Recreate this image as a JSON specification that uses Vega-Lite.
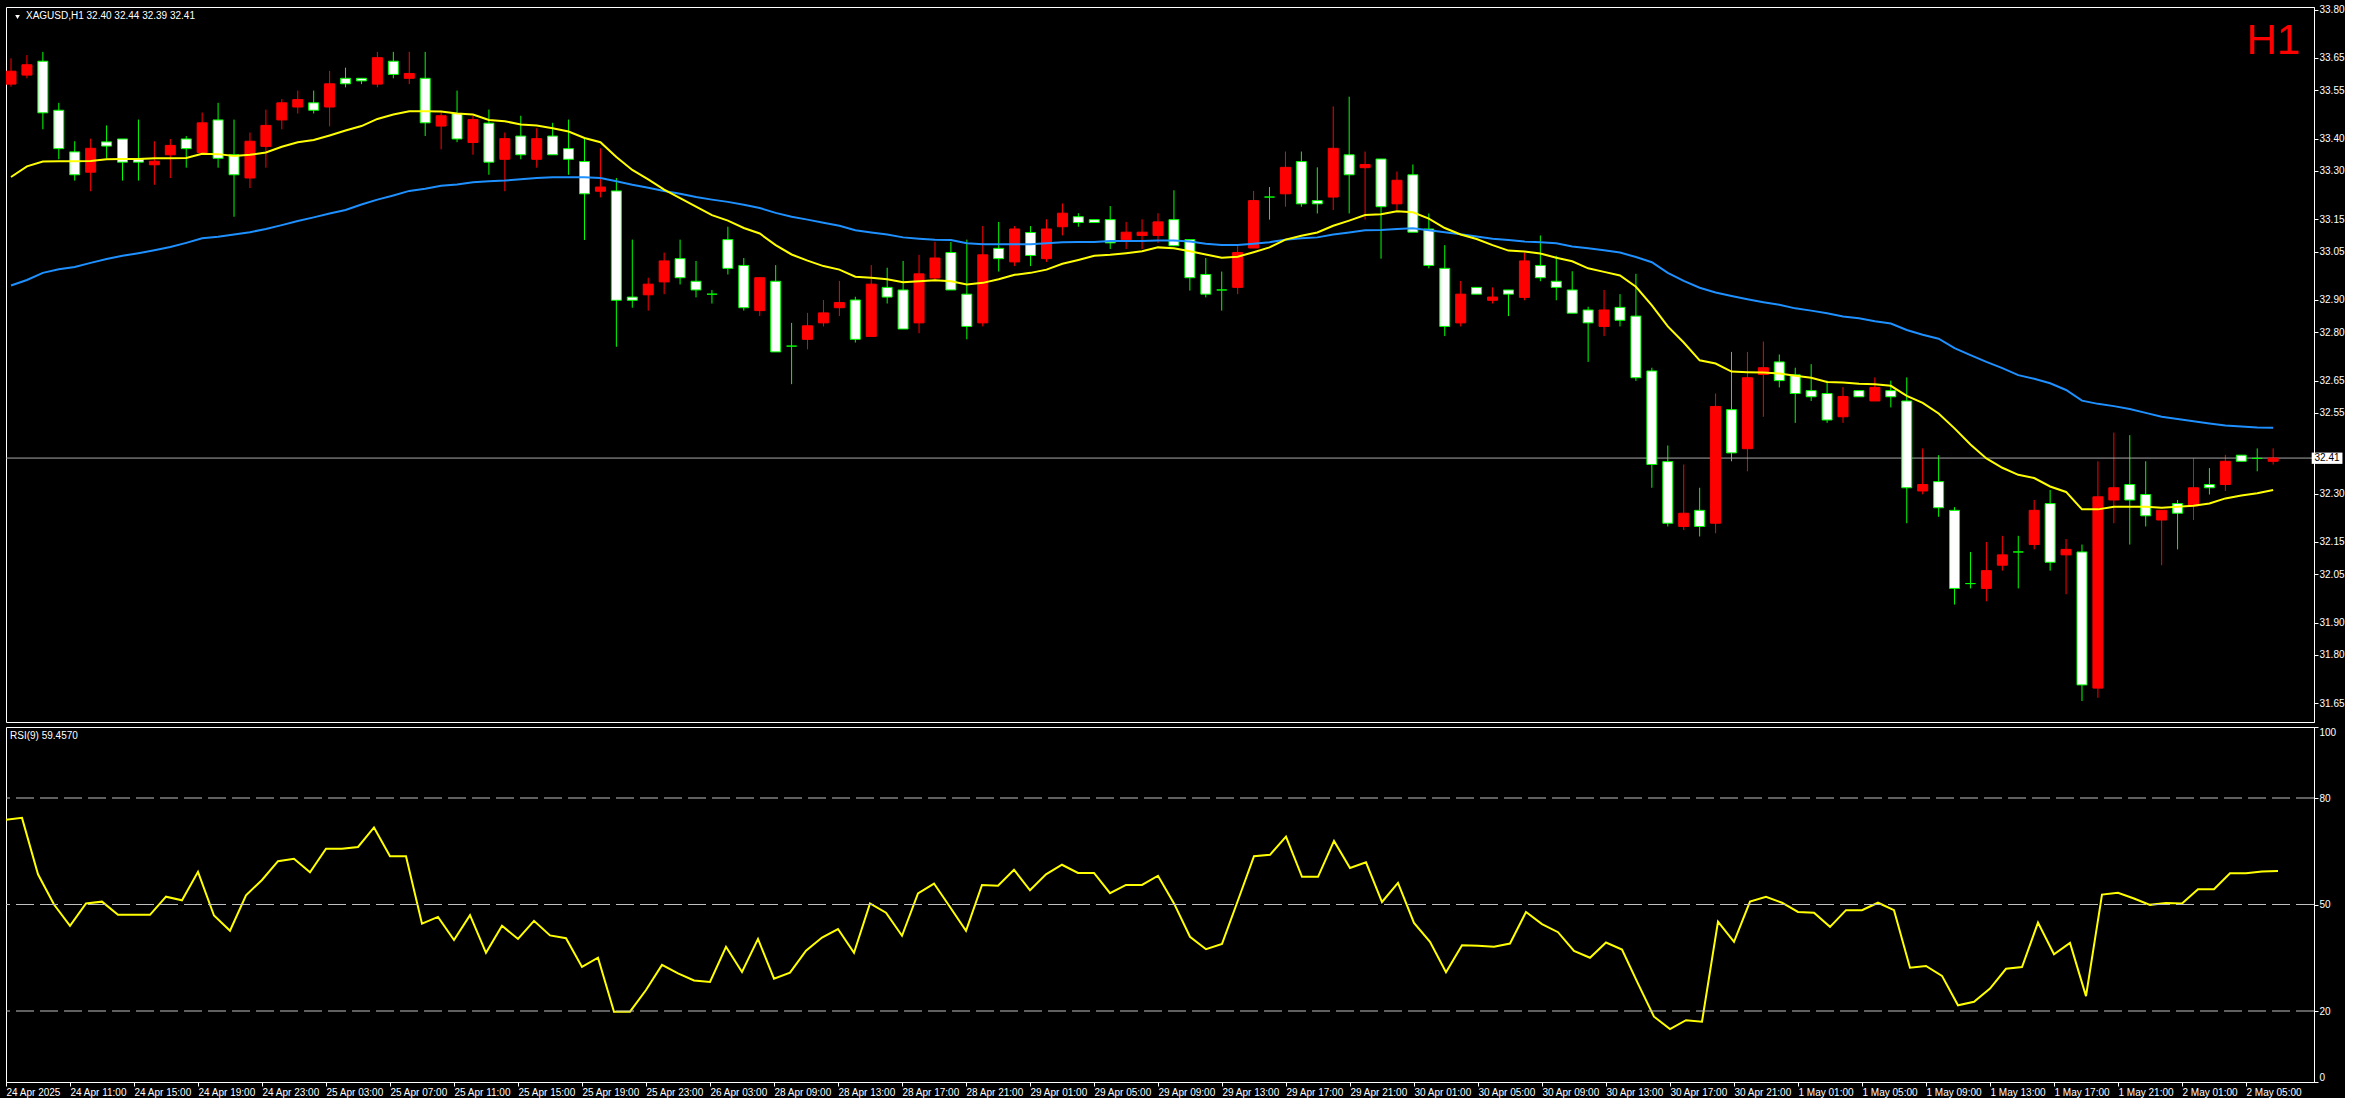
{
  "$schema": "https://vega.github.io/schema/vega-lite/v6.json",
  "background": "#000000",
  "padding": {"left": 5, "top": 4, "right": 0, "bottom": 0},
  "spacing": 3,
  "config": {
    "view": {"stroke": "#ffffff", "strokeWidth": 1},
    "axis": {"labelFont": "Liberation Sans", "labelFontSize": 10, "labelColor": "#ffffff", "domainColor": "#ffffff", "tickColor": "#ffffff", "grid": false, "tickSize": 4, "labelPadding": 1},
    "text": {"font": "Liberation Sans"}
  },
  "datasets": {
    "bars": [
      {"i":0,"o":33.569,"h":33.649,"l":33.561,"c":33.609,"m1":33.281,"m2":32.945,"r":73.9},
      {"i":1,"o":33.597,"h":33.659,"l":33.587,"c":33.629,"m1":33.314,"m2":32.962,"r":74.4},
      {"i":2,"o":33.640,"h":33.669,"l":33.429,"c":33.480,"m1":33.329,"m2":32.984,"r":58.5},
      {"i":3,"o":33.488,"h":33.511,"l":33.336,"c":33.369,"m1":33.330,"m2":32.995,"r":50.0},
      {"i":4,"o":33.359,"h":33.392,"l":33.270,"c":33.288,"m1":33.330,"m2":33.002,"r":44.0},
      {"i":5,"o":33.296,"h":33.400,"l":33.237,"c":33.370,"m1":33.331,"m2":33.015,"r":50.3},
      {"i":6,"o":33.390,"h":33.441,"l":33.339,"c":33.377,"m1":33.336,"m2":33.027,"r":50.8},
      {"i":7,"o":33.399,"h":33.399,"l":33.270,"c":33.327,"m1":33.337,"m2":33.037,"r":47.1},
      {"i":8,"o":33.336,"h":33.459,"l":33.270,"c":33.327,"m1":33.337,"m2":33.045,"r":47.1},
      {"i":9,"o":33.319,"h":33.392,"l":33.257,"c":33.330,"m1":33.339,"m2":33.054,"r":47.1},
      {"i":10,"o":33.350,"h":33.399,"l":33.278,"c":33.379,"m1":33.339,"m2":33.064,"r":52.2},
      {"i":11,"o":33.399,"h":33.408,"l":33.310,"c":33.369,"m1":33.340,"m2":33.077,"r":51.2},
      {"i":12,"o":33.357,"h":33.481,"l":33.357,"c":33.449,"m1":33.353,"m2":33.091,"r":59.2},
      {"i":13,"o":33.458,"h":33.511,"l":33.310,"c":33.339,"m1":33.352,"m2":33.096,"r":46.9},
      {"i":14,"o":33.350,"h":33.459,"l":33.158,"c":33.288,"m1":33.346,"m2":33.103,"r":42.6},
      {"i":15,"o":33.278,"h":33.419,"l":33.247,"c":33.392,"m1":33.350,"m2":33.110,"r":52.6},
      {"i":16,"o":33.376,"h":33.490,"l":33.310,"c":33.441,"m1":33.357,"m2":33.120,"r":56.9},
      {"i":17,"o":33.458,"h":33.523,"l":33.429,"c":33.511,"m1":33.375,"m2":33.132,"r":62.2},
      {"i":18,"o":33.498,"h":33.549,"l":33.478,"c":33.521,"m1":33.389,"m2":33.145,"r":62.9},
      {"i":19,"o":33.511,"h":33.549,"l":33.478,"c":33.488,"m1":33.396,"m2":33.156,"r":59.1},
      {"i":20,"o":33.498,"h":33.610,"l":33.438,"c":33.570,"m1":33.410,"m2":33.168,"r":65.7},
      {"i":21,"o":33.587,"h":33.620,"l":33.559,"c":33.570,"m1":33.425,"m2":33.179,"r":65.7},
      {"i":22,"o":33.587,"h":33.587,"l":33.569,"c":33.579,"m1":33.439,"m2":33.196,"r":66.2},
      {"i":23,"o":33.569,"h":33.669,"l":33.559,"c":33.651,"m1":33.461,"m2":33.211,"r":71.7},
      {"i":24,"o":33.640,"h":33.669,"l":33.587,"c":33.599,"m1":33.475,"m2":33.224,"r":63.6},
      {"i":25,"o":33.587,"h":33.669,"l":33.569,"c":33.602,"m1":33.485,"m2":33.238,"r":63.6},
      {"i":26,"o":33.587,"h":33.669,"l":33.408,"c":33.449,"m1":33.485,"m2":33.245,"r":44.6},
      {"i":27,"o":33.439,"h":33.487,"l":33.367,"c":33.471,"m1":33.484,"m2":33.254,"r":46.5},
      {"i":28,"o":33.478,"h":33.549,"l":33.389,"c":33.399,"m1":33.478,"m2":33.258,"r":40.0},
      {"i":29,"o":33.388,"h":33.471,"l":33.350,"c":33.459,"m1":33.475,"m2":33.265,"r":47.0},
      {"i":30,"o":33.448,"h":33.490,"l":33.288,"c":33.327,"m1":33.458,"m2":33.268,"r":36.4},
      {"i":31,"o":33.336,"h":33.419,"l":33.237,"c":33.400,"m1":33.454,"m2":33.270,"r":44.0},
      {"i":32,"o":33.408,"h":33.471,"l":33.336,"c":33.350,"m1":33.444,"m2":33.274,"r":40.3},
      {"i":33,"o":33.336,"h":33.432,"l":33.310,"c":33.400,"m1":33.441,"m2":33.278,"r":45.4},
      {"i":34,"o":33.408,"h":33.449,"l":33.350,"c":33.350,"m1":33.432,"m2":33.280,"r":41.3},
      {"i":35,"o":33.369,"h":33.459,"l":33.288,"c":33.336,"m1":33.422,"m2":33.280,"r":40.5},
      {"i":36,"o":33.329,"h":33.400,"l":33.086,"c":33.229,"m1":33.402,"m2":33.280,"r":32.4},
      {"i":37,"o":33.237,"h":33.370,"l":33.218,"c":33.250,"m1":33.389,"m2":33.278,"r":35.0},
      {"i":38,"o":33.238,"h":33.278,"l":32.755,"c":32.899,"m1":33.343,"m2":33.268,"r":19.8},
      {"i":39,"o":32.909,"h":33.087,"l":32.876,"c":32.899,"m1":33.303,"m2":33.257,"r":19.8},
      {"i":40,"o":32.916,"h":32.969,"l":32.867,"c":32.949,"m1":33.274,"m2":33.248,"r":25.9},
      {"i":41,"o":32.956,"h":33.047,"l":32.918,"c":33.021,"m1":33.242,"m2":33.238,"r":33.0},
      {"i":42,"o":33.028,"h":33.087,"l":32.948,"c":32.969,"m1":33.216,"m2":33.229,"r":30.6},
      {"i":43,"o":32.958,"h":33.021,"l":32.908,"c":32.931,"m1":33.189,"m2":33.219,"r":28.6},
      {"i":44,"o":32.918,"h":32.931,"l":32.889,"c":32.918,"m1":33.163,"m2":33.211,"r":28.2},
      {"i":45,"o":33.087,"h":33.127,"l":32.979,"c":32.998,"m1":33.146,"m2":33.204,"r":38.1},
      {"i":46,"o":33.007,"h":33.030,"l":32.867,"c":32.876,"m1":33.123,"m2":33.195,"r":31.0},
      {"i":47,"o":32.867,"h":32.969,"l":32.850,"c":32.969,"m1":33.106,"m2":33.185,"r":40.3},
      {"i":48,"o":32.958,"h":33.008,"l":32.739,"c":32.739,"m1":33.070,"m2":33.170,"r":29.1},
      {"i":49,"o":32.757,"h":32.829,"l":32.639,"c":32.757,"m1":33.041,"m2":33.158,"r":30.8},
      {"i":50,"o":32.778,"h":32.860,"l":32.747,"c":32.820,"m1":33.022,"m2":33.149,"r":37.0},
      {"i":51,"o":32.829,"h":32.900,"l":32.818,"c":32.860,"m1":33.005,"m2":33.139,"r":40.7},
      {"i":52,"o":32.876,"h":32.959,"l":32.850,"c":32.892,"m1":32.994,"m2":33.130,"r":43.1},
      {"i":53,"o":32.900,"h":32.910,"l":32.768,"c":32.778,"m1":32.972,"m2":33.116,"r":36.4},
      {"i":54,"o":32.787,"h":33.008,"l":32.787,"c":32.949,"m1":32.969,"m2":33.109,"r":50.3},
      {"i":55,"o":32.939,"h":33.000,"l":32.889,"c":32.909,"m1":32.964,"m2":33.103,"r":47.7},
      {"i":56,"o":32.931,"h":33.021,"l":32.810,"c":32.810,"m1":32.955,"m2":33.094,"r":41.2},
      {"i":57,"o":32.829,"h":33.040,"l":32.797,"c":32.981,"m1":32.958,"m2":33.090,"r":53.1},
      {"i":58,"o":32.968,"h":33.080,"l":32.961,"c":33.030,"m1":32.961,"m2":33.087,"r":55.9},
      {"i":59,"o":33.047,"h":33.080,"l":32.931,"c":32.931,"m1":32.958,"m2":33.086,"r":49.3},
      {"i":60,"o":32.918,"h":33.087,"l":32.778,"c":32.818,"m1":32.948,"m2":33.076,"r":42.6},
      {"i":61,"o":32.829,"h":33.129,"l":32.818,"c":33.040,"m1":32.953,"m2":33.073,"r":55.5},
      {"i":62,"o":33.060,"h":33.142,"l":32.988,"c":33.028,"m1":32.964,"m2":33.073,"r":55.3},
      {"i":63,"o":33.018,"h":33.129,"l":33.005,"c":33.120,"m1":32.978,"m2":33.073,"r":59.8},
      {"i":64,"o":33.109,"h":33.129,"l":33.005,"c":33.038,"m1":32.984,"m2":33.073,"r":54.0},
      {"i":65,"o":33.028,"h":33.150,"l":33.018,"c":33.120,"m1":32.994,"m2":33.076,"r":58.5},
      {"i":66,"o":33.127,"h":33.199,"l":33.100,"c":33.169,"m1":33.012,"m2":33.079,"r":61.2},
      {"i":67,"o":33.158,"h":33.169,"l":33.127,"c":33.140,"m1":33.024,"m2":33.080,"r":58.9},
      {"i":68,"o":33.149,"h":33.149,"l":33.140,"c":33.140,"m1":33.037,"m2":33.080,"r":58.9},
      {"i":69,"o":33.149,"h":33.191,"l":33.058,"c":33.077,"m1":33.040,"m2":33.083,"r":53.2},
      {"i":70,"o":33.087,"h":33.142,"l":33.058,"c":33.110,"m1":33.045,"m2":33.083,"r":55.5},
      {"i":71,"o":33.100,"h":33.150,"l":33.058,"c":33.110,"m1":33.051,"m2":33.083,"r":55.5},
      {"i":72,"o":33.100,"h":33.169,"l":33.077,"c":33.142,"m1":33.063,"m2":33.084,"r":58.1},
      {"i":73,"o":33.149,"h":33.240,"l":33.068,"c":33.068,"m1":33.060,"m2":33.084,"r":50.3},
      {"i":74,"o":33.087,"h":33.087,"l":32.929,"c":32.969,"m1":33.051,"m2":33.081,"r":40.9},
      {"i":75,"o":32.979,"h":33.030,"l":32.908,"c":32.918,"m1":33.041,"m2":33.074,"r":37.4},
      {"i":76,"o":32.931,"h":32.988,"l":32.867,"c":32.931,"m1":33.031,"m2":33.070,"r":38.9},
      {"i":77,"o":32.939,"h":33.067,"l":32.918,"c":33.047,"m1":33.034,"m2":33.070,"r":51.2},
      {"i":78,"o":33.061,"h":33.238,"l":33.061,"c":33.208,"m1":33.048,"m2":33.074,"r":63.6},
      {"i":79,"o":33.219,"h":33.250,"l":33.149,"c":33.219,"m1":33.063,"m2":33.079,"r":64.0},
      {"i":80,"o":33.229,"h":33.360,"l":33.189,"c":33.311,"m1":33.087,"m2":33.087,"r":69.1},
      {"i":81,"o":33.329,"h":33.360,"l":33.189,"c":33.198,"m1":33.099,"m2":33.091,"r":57.8},
      {"i":82,"o":33.208,"h":33.311,"l":33.168,"c":33.198,"m1":33.109,"m2":33.094,"r":57.8},
      {"i":83,"o":33.219,"h":33.500,"l":33.179,"c":33.370,"m1":33.130,"m2":33.103,"r":67.9},
      {"i":84,"o":33.350,"h":33.530,"l":33.168,"c":33.288,"m1":33.146,"m2":33.109,"r":60.3},
      {"i":85,"o":33.310,"h":33.360,"l":33.149,"c":33.320,"m1":33.163,"m2":33.116,"r":61.9},
      {"i":86,"o":33.337,"h":33.337,"l":33.028,"c":33.189,"m1":33.166,"m2":33.117,"r":50.7},
      {"i":87,"o":33.198,"h":33.298,"l":33.179,"c":33.271,"m1":33.175,"m2":33.120,"r":56.1},
      {"i":88,"o":33.288,"h":33.320,"l":33.110,"c":33.110,"m1":33.172,"m2":33.122,"r":44.8},
      {"i":89,"o":33.120,"h":33.168,"l":32.998,"c":33.007,"m1":33.152,"m2":33.116,"r":39.5},
      {"i":90,"o":32.998,"h":33.070,"l":32.788,"c":32.818,"m1":33.123,"m2":33.110,"r":30.9},
      {"i":91,"o":32.829,"h":32.959,"l":32.818,"c":32.918,"m1":33.103,"m2":33.104,"r":38.5},
      {"i":92,"o":32.939,"h":32.939,"l":32.918,"c":32.918,"m1":33.089,"m2":33.097,"r":38.4},
      {"i":93,"o":32.899,"h":32.939,"l":32.889,"c":32.909,"m1":33.070,"m2":33.090,"r":38.1},
      {"i":94,"o":32.931,"h":32.931,"l":32.850,"c":32.918,"m1":33.053,"m2":33.086,"r":39.0},
      {"i":95,"o":32.908,"h":33.047,"l":32.899,"c":33.021,"m1":33.050,"m2":33.081,"r":47.9},
      {"i":96,"o":33.007,"h":33.100,"l":32.958,"c":32.969,"m1":33.044,"m2":33.079,"r":44.5},
      {"i":97,"o":32.958,"h":33.037,"l":32.899,"c":32.939,"m1":33.031,"m2":33.076,"r":42.2},
      {"i":98,"o":32.931,"h":32.989,"l":32.859,"c":32.859,"m1":33.020,"m2":33.066,"r":36.9},
      {"i":99,"o":32.869,"h":32.879,"l":32.708,"c":32.829,"m1":32.998,"m2":33.060,"r":35.0},
      {"i":100,"o":32.818,"h":32.931,"l":32.788,"c":32.869,"m1":32.987,"m2":33.054,"r":39.3},
      {"i":101,"o":32.877,"h":32.918,"l":32.818,"c":32.837,"m1":32.976,"m2":33.047,"r":37.3},
      {"i":102,"o":32.850,"h":32.981,"l":32.649,"c":32.659,"m1":32.941,"m2":33.033,"r":27.7},
      {"i":103,"o":32.680,"h":32.690,"l":32.318,"c":32.390,"m1":32.883,"m2":33.017,"r":18.4},
      {"i":104,"o":32.399,"h":32.449,"l":32.198,"c":32.208,"m1":32.818,"m2":32.984,"r":14.9},
      {"i":105,"o":32.198,"h":32.390,"l":32.187,"c":32.239,"m1":32.768,"m2":32.959,"r":17.4},
      {"i":106,"o":32.248,"h":32.318,"l":32.167,"c":32.198,"m1":32.713,"m2":32.938,"r":17.0},
      {"i":107,"o":32.208,"h":32.610,"l":32.177,"c":32.570,"m1":32.703,"m2":32.923,"r":45.2},
      {"i":108,"o":32.560,"h":32.739,"l":32.400,"c":32.426,"m1":32.678,"m2":32.912,"r":39.5},
      {"i":109,"o":32.439,"h":32.739,"l":32.369,"c":32.659,"m1":32.676,"m2":32.902,"r":50.8},
      {"i":110,"o":32.669,"h":32.771,"l":32.538,"c":32.690,"m1":32.675,"m2":32.893,"r":52.2},
      {"i":111,"o":32.708,"h":32.731,"l":32.629,"c":32.650,"m1":32.672,"m2":32.885,"r":50.5},
      {"i":112,"o":32.668,"h":32.690,"l":32.519,"c":32.610,"m1":32.665,"m2":32.874,"r":47.9},
      {"i":113,"o":32.619,"h":32.701,"l":32.587,"c":32.600,"m1":32.659,"m2":32.867,"r":47.7},
      {"i":114,"o":32.610,"h":32.650,"l":32.519,"c":32.528,"m1":32.646,"m2":32.859,"r":43.7},
      {"i":115,"o":32.538,"h":32.630,"l":32.519,"c":32.601,"m1":32.644,"m2":32.849,"r":48.4},
      {"i":116,"o":32.619,"h":32.619,"l":32.600,"c":32.600,"m1":32.640,"m2":32.843,"r":48.4},
      {"i":117,"o":32.587,"h":32.660,"l":32.587,"c":32.629,"m1":32.639,"m2":32.834,"r":50.5},
      {"i":118,"o":32.619,"h":32.650,"l":32.567,"c":32.600,"m1":32.634,"m2":32.827,"r":48.4},
      {"i":119,"o":32.587,"h":32.660,"l":32.208,"c":32.318,"m1":32.603,"m2":32.807,"r":32.2},
      {"i":120,"o":32.308,"h":32.440,"l":32.298,"c":32.328,"m1":32.581,"m2":32.792,"r":32.7},
      {"i":121,"o":32.337,"h":32.419,"l":32.228,"c":32.256,"m1":32.548,"m2":32.780,"r":29.9},
      {"i":122,"o":32.248,"h":32.258,"l":31.956,"c":32.006,"m1":32.502,"m2":32.751,"r":21.6},
      {"i":123,"o":32.021,"h":32.119,"l":32.006,"c":32.021,"m1":32.452,"m2":32.729,"r":22.6},
      {"i":124,"o":32.006,"h":32.150,"l":31.966,"c":32.061,"m1":32.409,"m2":32.708,"r":26.3},
      {"i":125,"o":32.078,"h":32.169,"l":32.061,"c":32.110,"m1":32.380,"m2":32.689,"r":31.9},
      {"i":126,"o":32.119,"h":32.169,"l":32.006,"c":32.119,"m1":32.358,"m2":32.667,"r":32.4},
      {"i":127,"o":32.142,"h":32.280,"l":32.127,"c":32.248,"m1":32.348,"m2":32.656,"r":44.9},
      {"i":128,"o":32.269,"h":32.311,"l":32.061,"c":32.087,"m1":32.322,"m2":32.642,"r":36.0},
      {"i":129,"o":32.110,"h":32.159,"l":31.988,"c":32.127,"m1":32.305,"m2":32.621,"r":39.2},
      {"i":130,"o":32.119,"h":32.142,"l":31.657,"c":31.707,"m1":32.251,"m2":32.588,"r":24.2},
      {"i":131,"o":31.697,"h":32.400,"l":31.667,"c":32.290,"m1":32.251,"m2":32.578,"r":52.8},
      {"i":132,"o":32.280,"h":32.489,"l":32.208,"c":32.318,"m1":32.259,"m2":32.571,"r":53.3},
      {"i":133,"o":32.328,"h":32.481,"l":32.142,"c":32.280,"m1":32.259,"m2":32.562,"r":51.7},
      {"i":134,"o":32.297,"h":32.400,"l":32.198,"c":32.231,"m1":32.259,"m2":32.550,"r":49.9},
      {"i":135,"o":32.218,"h":32.248,"l":32.078,"c":32.248,"m1":32.256,"m2":32.538,"r":50.4},
      {"i":136,"o":32.269,"h":32.280,"l":32.127,"c":32.239,"m1":32.259,"m2":32.531,"r":50.3},
      {"i":137,"o":32.262,"h":32.410,"l":32.218,"c":32.318,"m1":32.262,"m2":32.524,"r":54.3},
      {"i":138,"o":32.328,"h":32.379,"l":32.297,"c":32.318,"m1":32.269,"m2":32.517,"r":54.3},
      {"i":139,"o":32.328,"h":32.420,"l":32.308,"c":32.400,"m1":32.285,"m2":32.511,"r":58.8},
      {"i":140,"o":32.419,"h":32.419,"l":32.400,"c":32.400,"m1":32.294,"m2":32.508,"r":58.8},
      {"i":141,"o":32.409,"h":32.440,"l":32.369,"c":32.409,"m1":32.301,"m2":32.505,"r":59.3},
      {"i":142,"o":32.400,"h":32.440,"l":32.390,"c":32.410,"m1":32.311,"m2":32.504,"r":59.457}
    ],
    "levels": [{"v": 20}, {"v": 50}, {"v": 80}]
  },
  "vconcat": [
    {
      "width": 2308,
      "height": 715,
      "data": {"name": "bars"},
      "layer": [
        {
          "mark": {"type": "rule", "strokeWidth": 1, "clip": true},
          "encoding": {
            "x": {"field": "i", "type": "quantitative", "scale": {"domain": [0, 144.25], "zero": false, "nice": false}, "axis": null},
            "y": {
              "field": "l", "type": "quantitative",
              "scale": {"domain": [31.592, 33.808], "zero": false, "nice": false},
              "axis": {"orient": "right", "values": [33.80, 33.65, 33.55, 33.40, 33.30, 33.15, 33.05, 32.90, 32.80, 32.65, 32.55, 32.30, 32.15, 32.05, 31.90, 31.80, 31.65], "format": ".2f", "labelFlush": false, "labelOverlap": false, "title": null}
            },
            "y2": {"field": "h"},
            "color": {"condition": {"test": "datum.c > datum.o", "value": "#ff0000"}, "value": "#00ff00"}
          }
        },
        {
          "data": {"values": [{}]},
          "mark": {"type": "rule", "color": "#a8a8a8", "strokeWidth": 1},
          "encoding": {
            "y": {"datum": 32.41, "type": "quantitative", "title": null}
          }
        },
        {
          "mark": {"type": "bar", "width": 10, "strokeWidth": 1, "clip": true},
          "encoding": {
            "x": {"field": "i", "type": "quantitative", "axis": null},
            "y": {"field": "o", "type": "quantitative", "title": null},
            "y2": {"field": "c"},
            "fill": {"condition": {"test": "datum.c > datum.o", "value": "#ff0000"}, "value": "#ffffff"},
            "stroke": {"condition": {"test": "datum.c > datum.o", "value": "#ff0000"}, "value": "#00ff00"}
          }
        },
        {
          "mark": {"type": "line", "color": "#1e90ff", "strokeWidth": 2, "clip": true},
          "encoding": {
            "x": {"field": "i", "type": "quantitative", "axis": null},
            "y": {"field": "m2", "type": "quantitative", "title": null}
          }
        },
        {
          "mark": {"type": "line", "color": "#ffff00", "strokeWidth": 2, "clip": true},
          "encoding": {
            "x": {"field": "i", "type": "quantitative", "axis": null},
            "y": {"field": "m1", "type": "quantitative", "title": null}
          }
        },
        {
          "data": {"values": [{}]},
          "mark": {"type": "rect", "color": "#ffffff"},
          "encoding": {
            "x": {"datum": 144.42, "type": "quantitative", "axis": null},
            "x2": {"datum": 146.35},
            "y": {"datum": 32.427, "type": "quantitative", "title": null},
            "y2": {"datum": 32.392}
          }
        },
        {
          "data": {"values": [{"t": "32.41"}]},
          "mark": {"type": "text", "color": "#000000", "fontSize": 10, "align": "center", "baseline": "middle"},
          "encoding": {
            "x": {"datum": 145.38, "type": "quantitative", "axis": null},
            "y": {"datum": 32.409, "type": "quantitative", "title": null},
            "text": {"field": "t"}
          }
        },
        {
          "data": {"values": [{"t": "XAGUSD,H1  32.40 32.44 32.39 32.41"}]},
          "mark": {"type": "text", "color": "#ffffff", "fontSize": 10, "align": "left", "baseline": "middle"},
          "encoding": {
            "x": {"datum": 0.94, "type": "quantitative", "axis": null},
            "y": {"datum": 33.779, "type": "quantitative", "title": null},
            "text": {"field": "t"}
          }
        },
        {
          "data": {"values": [{}]},
          "mark": {"type": "point", "shape": "triangle-down", "filled": true, "color": "#ffffff", "size": 22, "opacity": 1},
          "encoding": {
            "x": {"datum": 0.41, "type": "quantitative", "axis": null},
            "y": {"datum": 33.777, "type": "quantitative", "title": null}
          }
        },
        {
          "data": {"values": [{"t": "H1"}]},
          "mark": {"type": "text", "color": "#ff0000", "fontSize": 42, "align": "right", "baseline": "alphabetic"},
          "encoding": {
            "x": {"datum": 143.7, "type": "quantitative", "axis": null},
            "y": {"datum": 33.662, "type": "quantitative", "title": null},
            "text": {"field": "t"}
          }
        }
      ]
    },
    {
      "width": 2308,
      "height": 355,
      "layer": [
        {
          "data": {"name": "bars"},
          "mark": {"type": "line", "color": "#ffff00", "strokeWidth": 2, "clip": true},
          "encoding": {
            "x": {
              "field": "i", "type": "quantitative",
              "scale": {"domain": [0, 144.25], "zero": false, "nice": false},
              "axis": {
                "values": [0,4,8,12,16,20,24,28,32,36,40,44,48,52,56,60,64,68,72,76,80,84,88,92,96,100,104,108,112,116,120,124,128,132,136,140],
                "labelExpr": "['24 Apr 2025','24 Apr 11:00','24 Apr 15:00','24 Apr 19:00','24 Apr 23:00','25 Apr 03:00','25 Apr 07:00','25 Apr 11:00','25 Apr 15:00','25 Apr 19:00','25 Apr 23:00','26 Apr 03:00','28 Apr 09:00','28 Apr 13:00','28 Apr 17:00','28 Apr 21:00','29 Apr 01:00','29 Apr 05:00','29 Apr 09:00','29 Apr 13:00','29 Apr 17:00','29 Apr 21:00','30 Apr 01:00','30 Apr 05:00','30 Apr 09:00','30 Apr 13:00','30 Apr 17:00','30 Apr 21:00','1 May 01:00','1 May 05:00','1 May 09:00','1 May 13:00','1 May 17:00','1 May 21:00','2 May 01:00','2 May 05:00'][datum.value / 4]",
                "labelAlign": "left",
                "labelBaseline": "top",
                "labelFlush": false,
                "labelOverlap": false,
                "labelPadding": 1,
                "title": null
              }
            },
            "y": {
              "field": "r", "type": "quantitative",
              "scale": {"domain": [0, 100], "zero": false, "nice": false},
              "axis": {"orient": "right", "values": [0, 20, 50, 80, 100], "format": "d", "labelFlush": true, "labelOverlap": false, "title": null}
            }
          }
        },
        {
          "data": {"name": "levels"},
          "mark": {"type": "rule", "color": "#c0c0c0", "strokeWidth": 1, "strokeDash": [18, 6]},
          "encoding": {
            "y": {"field": "v", "type": "quantitative", "title": null}
          }
        },
        {
          "data": {"values": [{"t": "RSI(9) 59.4570"}]},
          "mark": {"type": "text", "color": "#ffffff", "fontSize": 10, "align": "left", "baseline": "middle"},
          "encoding": {
            "x": {"datum": 0.25, "type": "quantitative", "title": null},
            "y": {"datum": 97.5, "type": "quantitative", "title": null},
            "text": {"field": "t"}
          }
        }
      ]
    }
  ]
}
